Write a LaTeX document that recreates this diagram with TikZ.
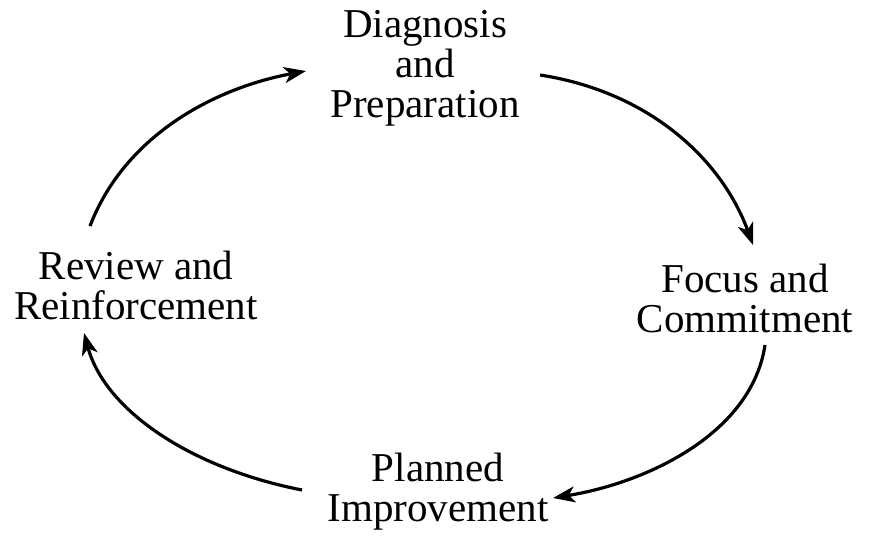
\documentclass[tikz,border=0pt]{standalone}
\usepackage{fontspec}
\setmainfont{Liberation Serif}
\usetikzlibrary{arrows.meta}
\begin{document}
\begin{tikzpicture}[x=1pt,y=-1pt,
  lbl/.style={align=center,font=\fontsize{41}{40}\selectfont,inner sep=0pt},
  flow/.style={line width=3.2pt,-{Stealth[length=22pt,width=16pt,inset=6pt]}}]
\useasboundingbox (0,0) rectangle (874,536);
\node[lbl] (diag) at (425,68) {Diagnosis\\and\\Preparation};
\node[lbl] (focus) at (745,298) {Focus and\\Commitment};
\node[lbl] (plan) at (438,492) {Planned\\Improvement};
\node[lbl] (rev) at (136,285) {Review and\\Reinforcement};
\coordinate (a1s) at (90,226);
\coordinate (a1e) at (306,71);
\coordinate (a2s) at (540,75);
\coordinate (a2e) at (753,245);
\coordinate (a3s) at (765,345);
\coordinate (a3e) at (553,498);
\coordinate (a4s) at (302,490);
\coordinate (a4e) at (84,333);
\draw[flow] (a1s) .. controls (125,135) and (215,88) .. (a1e);
\draw[flow] (a2s) .. controls (650,92) and (722,160) .. (a2e);
\draw[flow] (a3s) .. controls (752,432) and (650,482) .. (a3e);
\draw[flow] (a4s) .. controls (190,468) and (105,410) .. (a4e);
\end{tikzpicture}
\end{document}
